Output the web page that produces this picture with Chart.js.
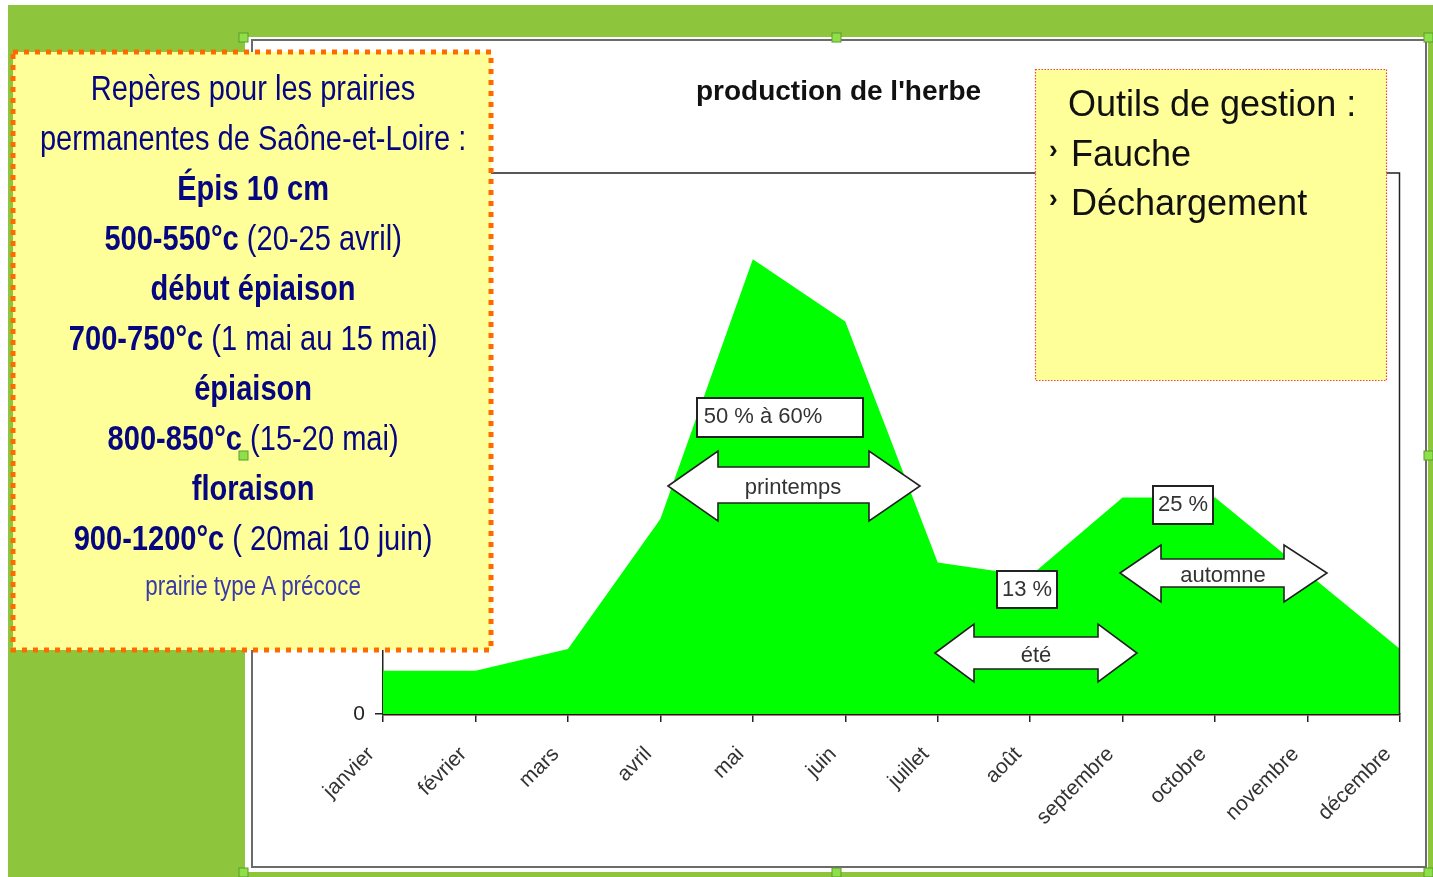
<!DOCTYPE html>
<html lang="fr">
<head>
<meta charset="utf-8">
<title>production de l'herbe</title>
<script src="https://cdn.jsdelivr.net/npm/chart.js@4.4.1/dist/chart.umd.min.js"></script>
<style>
  html, body { margin: 0; padding: 0; background: #fff; width: 1433px; height: 877px; overflow: hidden; }
  body { position: relative; font-family: "Liberation Sans", Arial, sans-serif; }
  .abs { position: absolute; }
  #frame { left: 8px; top: 5px; width: 1425px; height: 872px; background: #8dc63c; }
  #sheet { left: 245px; top: 37px; width: 1183px; height: 835px; background: #fff; }
  #panel { left: 251px; top: 39px; width: 1172px; height: 825px; border: 2px solid #6b6b6b; background: #fff; }
  #chartBox { left: 252px; top: 40px; width: 1173px; height: 826px; }
  #overlay { left: 0; top: 0; }
  #repere { left: 12px; top: 50px; width: 482px; height: 602px; overflow: hidden; }
  #repere .inner { position: absolute; left: 0; top: 13px; width: 581px; transform: scaleX(0.83); transform-origin: 0 0;
    text-align: center; color: #060680; font-size: 35px; line-height: 50px; }
  #repere b { font-weight: bold; }
  #repere .small { font-size: 27px; line-height: 46px; color: #3a3aa8; }
  #outils { left: 1035px; top: 69px; width: 351px; height: 311px; color: #111; font-size: 36px; line-height: 49.5px; }
  #outils div { position: relative; white-space: nowrap; }
  .bullet { position: absolute; left: -22px; top: -4px; font-size: 26px; font-weight: bold; }
  .lbl { position: absolute; font-size: 22px; color: #333; white-space: nowrap; transform: translate(-50%, -50%); }
</style>
</head>
<body>
<div id="frame" class="abs"></div>
<div id="sheet" class="abs"></div>
<div id="panel" class="abs"></div>
<div id="chartBox" class="abs"><canvas id="herbeChart" width="1173" height="826"></canvas></div>

<svg id="overlay" class="abs" width="1433" height="877" xmlns="http://www.w3.org/2000/svg">
  <!-- encadré gauche -->
  <rect x="13" y="52" width="478" height="598" fill="#ffff99" stroke="#ff6a00" stroke-width="5" stroke-dasharray="5 6"/>
  <!-- encadré droit -->
  <rect x="1035.5" y="69.5" width="351" height="311" fill="#ffff99" stroke="#f04040" stroke-width="1.2" stroke-dasharray="1.5 1.5"/>
  <!-- étiquettes -->
  <rect x="697" y="398" width="166" height="39" fill="#fff" stroke="#222" stroke-width="2"/>
  <rect x="997" y="571" width="60" height="37" fill="#fff" stroke="#222" stroke-width="2"/>
  <rect x="1153" y="486" width="60" height="38" fill="#fff" stroke="#222" stroke-width="2"/>
  <!-- flèches doubles -->
  <polygon points="668,486 718,451 718,467 869,467 869,451 920,486 869,521 869,503 718,503 718,521" fill="#fff" stroke="#222" stroke-width="1.6"/>
  <polygon points="935,653 974,624 974,637 1098,637 1098,624 1137,653 1098,682 1098,669 974,669 974,682" fill="#fff" stroke="#222" stroke-width="1.6"/>
  <polygon points="1120,573 1161,545 1161,559 1284,559 1284,545 1327,573 1284,602 1284,587 1161,587 1161,602" fill="#fff" stroke="#222" stroke-width="1.6"/>
  <!-- poignées de sélection -->
  <g fill="#8ee04a" stroke="#5c9a2a" stroke-width="1">
    <rect x="239" y="33" width="9" height="9"/>
    <rect x="832" y="33" width="9" height="9"/>
    <rect x="1424" y="33" width="9" height="9"/>
    <rect x="239" y="451" width="9" height="9"/>
    <rect x="1424" y="451" width="9" height="9"/>
    <rect x="239" y="868" width="9" height="9"/>
    <rect x="832" y="868" width="9" height="9"/>
    <rect x="1424" y="868" width="9" height="9"/>
  </g>
</svg>

<div id="repere" class="abs">
  <div class="inner">
    <div>Repères pour les prairies</div>
    <div>permanentes de Saône-et-Loire :</div>
    <div><b>Épis 10 cm</b></div>
    <div><b>500-550°c</b> (20-25 avril)</div>
    <div><b>début épiaison</b></div>
    <div><b>700-750°c</b> (1 mai au 15 mai)</div>
    <div><b>épiaison</b></div>
    <div><b>800-850°c</b> (15-20 mai)</div>
    <div><b>floraison</b></div>
    <div><b>900-1200°c</b> ( 20mai 10 juin)</div>
    <div class="small">prairie type A précoce</div>
  </div>
</div>

<div id="outils" class="abs">
  <div style="left:33px; top:10px;">Outils de gestion :</div>
  <div style="left:36px; top:10px;"><span class="bullet">›</span>Fauche</div>
  <div style="left:36px; top:10px;"><span class="bullet">›</span>Déchargement</div>
</div>

<div class="lbl" style="left:763px; top:416px;">50 % à 60%</div>
<div class="lbl" style="left:793px; top:487px;">printemps</div>
<div class="lbl" style="left:1027px; top:589px;">13 %</div>
<div class="lbl" style="left:1183px; top:504px;">25 %</div>
<div class="lbl" style="left:1223px; top:575px;">automne</div>
<div class="lbl" style="left:1036px; top:655px;">été</div>

<script>
// production mensuelle d'herbe (unité relative)
const months = ['janvier', 'février', 'mars', 'avril', 'mai', 'juin', 'juillet', 'août', 'septembre', 'octobre', 'novembre', 'décembre'];
const production = [8, 8, 12, 36, 84, 72.5, 28, 25.5, 40, 40, 26, 12];
const yTicks = [0, 20, 40, 60, 80, 100];

// cadre de la zone de tracé (haut et droite comme dans Excel)
const plotFrame = {
  id: 'plotFrame',
  afterDraw(chart) {
    const a = chart.chartArea;
    const ctx = chart.ctx;
    ctx.save();
    ctx.strokeStyle = '#222';
    ctx.lineWidth = 1.5;
    ctx.beginPath();
    ctx.moveTo(a.left, a.top + 0.5);
    ctx.lineTo(a.right - 0.5, a.top + 0.5);
    ctx.lineTo(a.right - 0.5, a.bottom);
    ctx.stroke();
    ctx.restore();
  }
};

var ctx = document.getElementById('herbeChart').getContext('2d');
new Chart(ctx, {
  type: 'line',
  data: {
    labels: months,
    datasets: [{
      label: 'production',
      data: production,
      fill: 'origin',
      backgroundColor: '#00ff00',
      borderWidth: 0,
      borderColor: '#00ff00',
      pointRadius: 0,
      tension: 0
    }]
  },
  options: {
    responsive: false,
    animation: false,
    layout: { padding: 0 },
    plugins: {
      legend: { display: false },
      tooltip: { enabled: false },
      title: {
        display: true,
        text: "production de l'herbe",
        color: '#111',
        font: { family: 'Liberation Sans', size: 28, weight: 'bold' },
        padding: { top: 35, bottom: 64 }
      }
    },
    scales: {
      x: {
        offset: false,
        grid: { display: true, drawOnChartArea: false, tickLength: 8, color: '#222', lineWidth: 1.5 },
        border: { display: true, color: '#3a0a0a', width: 2.5 },
        ticks: {
          minRotation: 45, maxRotation: 45, padding: 20, labelOffset: -12, autoSkip: false,
          color: '#333', font: { family: 'Liberation Sans', size: 21 }
        },
        afterFit(scale) {
          scale.height = 152;
          scale.paddingLeft = 0;
          scale.paddingRight = 0;
        }
      },
      y: {
        min: 0, max: 100,
        afterBuildTicks(scale) { scale.ticks = yTicks.map(v => ({ value: v })); },
        grid: { display: true, drawOnChartArea: false, tickLength: 8, color: '#222', lineWidth: 1.5 },
        border: { display: true, color: '#222', width: 1.5 },
        ticks: { color: '#222', padding: 10, font: { family: 'Liberation Sans', size: 21 } },
        afterFit(scale) { scale.width = 131; }
      },
      // marge droite vide, pour garder le titre centré sur tout le cadre
      yRight: {
        position: 'right',
        grid: { display: false },
        border: { display: false },
        ticks: { display: false },
        afterFit(scale) { scale.width = 25; }
      }
    }
  },
  plugins: [plotFrame]
});
</script>
</body>
</html>
